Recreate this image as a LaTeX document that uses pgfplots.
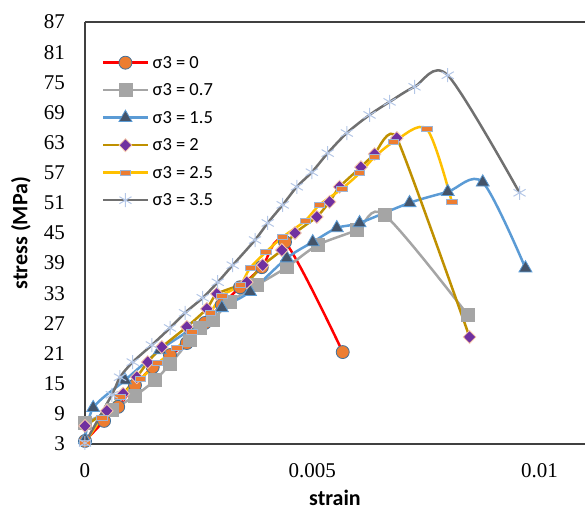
\documentclass[border=0pt]{standalone}
\usepackage{fontspec}
\setmainfont{Liberation Serif}
\newfontfamily\calib{Carlito}
\usepackage{pgfplots}
\pgfplotsset{compat=1.18}
\definecolor{cred}{RGB}{255,0,0}
\definecolor{corange}{RGB}{237,125,49}
\definecolor{cedge}{RGB}{65,113,156}
\definecolor{cgray}{RGB}{165,165,165}
\definecolor{cblue}{RGB}{91,155,213}
\definecolor{ctri}{RGB}{68,84,106}
\definecolor{cgold}{RGB}{191,144,0}
\definecolor{cpurple}{RGB}{112,48,160}
\definecolor{cpeach}{RGB}{248,203,173}
\definecolor{cyellow}{RGB}{255,192,0}
\definecolor{cdgray}{RGB}{112,112,112}
\definecolor{cstar}{RGB}{180,199,231}
\definecolor{caxis}{RGB}{64,64,64}
\definecolor{crectedge}{RGB}{157,180,212}
\begin{document}
\begin{tikzpicture}
\begin{axis}[
  name=ax,
  scale only axis,
  width=500pt, height=422pt,
  xmin=0, xmax=0.011, ymin=3, ymax=87,
  axis x line=bottom, axis y line=left,
  axis line style={-, draw=caxis, line width=1.3pt},
  scaled x ticks=false,
  xtick={0,0.005,0.01}, xticklabels={0,0.005,0.01},
  ytick={3,9,...,87},
  major tick length=0pt,
  tick label style={font=\fontsize{21}{24}\selectfont},
  /pgf/number format/assume math mode=true,
  yticklabel style={inner sep=0pt, anchor=east, xshift=-20pt},
  xticklabel style={inner sep=0pt, anchor=north, yshift=-19pt},
  xlabel={\calib\bfseries\fontsize{22}{26}\selectfont strain},
  ylabel={\calib\bfseries\fontsize{22}{26}\selectfont stress (MPa)},
  every axis x label/.style={at={(rel axis cs:0.5,0)}, anchor=center, yshift=-54pt},
  every axis y label/.style={at={(rel axis cs:0,0.5)}, anchor=center, rotate=90, yshift=64pt},
  clip=false,
  legend cell align=left,
  legend image code/.code={\draw[mark repeat=2,mark phase=2] plot coordinates {(0pt,0pt) (22pt,0pt) (44pt,0pt)};},
  legend style={draw=none, fill=none, at={(rel axis cs:0,1)}, anchor=north west, xshift=14pt, yshift=-30pt,
     font=\calib\fontsize{18.5}{20}\selectfont, row sep=10.5pt,
     nodes={inner sep=1pt, text height=13pt, text depth=2pt},
     /tikz/every odd column/.append style={column sep=3pt}},
]
\addplot[cred, line width=2.5pt, smooth, mark=*, mark size=6.5pt, mark options={fill=corange, draw=cedge, line width=0.8pt}] coordinates {
(0,3.6) (0.00042,7.6) (0.00073,10.4) (0.00110,14.7) (0.00149,18.3) (0.00187,20.7) (0.00224,23.1) (0.00264,27.1) (0.00301,30.7) (0.00341,34.2) (0.00389,38.2) (0.00440,43.2) (0.00567,21.3)};
\addlegendentry{σ3 = 0}
\addplot[cgray, line width=2.5pt, smooth, mark=square*, mark size=6.5pt, mark options={fill=cgray, draw=cgray, line width=0.5pt}] coordinates {
(0,7.2) (0.00059,9.8) (0.00110,12.6) (0.00154,15.7) (0.00187,18.9) (0.00231,23.7) (0.00253,26.1) (0.00281,27.7) (0.00319,31.3) (0.00378,34.6) (0.00444,38.2) (0.00512,42.6) (0.00598,45.6) (0.00659,48.6) (0.00842,28.7)};
\addlegendentry{σ3 = 0.7}
\addplot[cblue, line width=2.5pt, smooth, mark=triangle*, mark size=7.5pt, mark options={fill=ctri, draw=cblue, line width=0.8pt}] coordinates {
(0,3.8) (0.00018,10.2) (0.00088,15.7) (0.00165,21.7) (0.00231,25.7) (0.00301,30.1) (0.00363,33.3) (0.00444,40.0) (0.00501,43.2) (0.00554,46.0) (0.00604,47.0) (0.00714,51.0) (0.00798,53.2) (0.00875,55.1) (0.00969,38.0)};
\addlegendentry{σ3 = 1.5}
\addplot[cgold, line width=2.5pt, smooth, tension=0.3, mark=diamond*, mark size=6.5pt, mark options={xscale=1.3, fill=cpurple, draw=cpeach, line width=0.8pt}] coordinates {
(0,6.6) (0.00048,9.6) (0.00084,13.0) (0.00114,16.3) (0.00138,19.3) (0.00169,22.3) (0.00224,26.3) (0.00268,29.9) (0.00290,32.9) (0.00356,35.2) (0.00391,38.6) (0.00433,41.6) (0.00462,45.0) (0.00510,48.2) (0.00538,51.2) (0.00560,54.2) (0.00607,58.1) (0.00637,60.7) (0.00686,63.9) (0.00846,24.3)};
\addlegendentry{σ3 = 2}
\addplot[cyellow, line width=2.5pt, smooth, mark=square*, mark size=3pt, mark options={xscale=1.7, yscale=0.8, fill=corange, draw=crectedge, line width=0.8pt}] coordinates {
(0,3.2) (0.00037,8.2) (0.00077,12.4) (0.00121,15.9) (0.00160,19.1) (0.00202,22.1) (0.00235,25.3) (0.00275,29.1) (0.00301,32.5) (0.00341,34.6) (0.00363,38.0) (0.00398,41.2) (0.00435,44.2) (0.00484,47.4) (0.00516,50.6) (0.00565,53.8) (0.00604,56.9) (0.00637,60.1) (0.00679,63.1) (0.00752,65.7) (0.00807,51.2)};
\addlegendentry{σ3 = 2.5}
\addplot[cdgray, line width=2.5pt, smooth, mark=asterisk, mark size=7pt, mark options={draw=cstar, line width=1pt}] coordinates {
(0,3.2) (0.00059,12.8) (0.00077,16.3) (0.00105,19.3) (0.00147,22.7) (0.00187,26.1) (0.00220,29.1) (0.00259,32.1) (0.00292,35.2) (0.00325,38.6) (0.00374,43.6) (0.00402,47.0) (0.00435,50.6) (0.00466,54.2) (0.00499,57.1) (0.00534,60.9) (0.00576,64.9) (0.00626,68.5) (0.00670,71.1) (0.00725,74.1) (0.00798,76.4) (0.00956,53.0)};
\addlegendentry{σ3 = 3.5}
\draw[caxis, line width=1.3pt] (rel axis cs:0,1) -- (rel axis cs:1,1);
\end{axis}
\pgfresetboundingbox
\path[use as bounding box] ([xshift=-85pt,yshift=-67pt]ax.south west) rectangle ([yshift=22pt]ax.north east);
\end{tikzpicture}
\end{document}
